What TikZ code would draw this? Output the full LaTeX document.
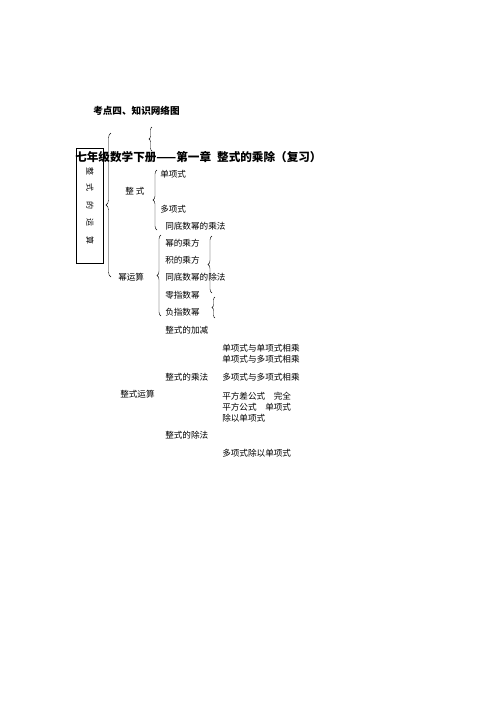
\documentclass[tikz,border=0pt]{standalone}
\usepackage{fontspec}
\setmainfont{Noto Sans CJK SC}
\usepackage{tikz}
\usetikzlibrary{decorations.pathreplacing}
\tikzset{
	item/.style     = {anchor=west, inner sep=0pt, font=\fontsize{8.6}{9}\selectfont},
	heading/.style  = {anchor=west, inner sep=0pt, font=\fontsize{11.6}{12}\selectfont\bfseries},
	vchar/.style    = {inner sep=0pt, rotate=-90, font=\fontsize{8}{9}\selectfont},
	brace/.style    = {decorate, decoration={brace, amplitude=#1}, thin},
	brace/.default  = 4pt,
}
\begin{document}
\begin{tikzpicture}[x=1pt, y=-1pt,             %<--one unit is one pixel of the layout
                     line width=.5pt]
    \useasboundingbox (0,0) rectangle (500,721);

    \draw%-----------------------------------------------------------------------------------------
    	%Drawing the Titles:
    	node(caption) at (93,111) [anchor=west, inner sep=0pt, font=\fontsize{9.6}{10}\selectfont\bfseries] {考点四、知识网络图}
    	node(title) at (75,157) [heading] {七年级数学下册——第一章\hspace{6pt}整式的乘除（复习）}
    	%Drawing the Box:
    	node(box) at (89.5,205.5) [draw, minimum width=27pt, minimum height=115pt, inner sep=0pt] {}
    	node(c1) at (90,171) [vchar] {整}
    	node(c2) at (90,187) [vchar] {式}
    	node(c3) at (90,205) [vchar] {的}
    	node(c4) at (90,222) [vchar] {运}
    	node(c5) at (90,240) [vchar] {算}
    	%Drawing the First Level:
    	node(zs) at (125,191) [item] {整\ 式}
    	node(myun) at (118,277) [item] {幂运算}
    	node(zsys) at (120,394) [item] {整式运算}
    	%Drawing the Second Level:
    	node(dan) at (160,174) [item] {单项式}
    	node(duo) at (160,209) [item] {多项式}
    	node(tcf) at (165,226) [item] {同底数幂的乘法}
    	node(mcf) at (165,243) [item] {幂的乘方}
    	node(jcf) at (165,260) [item] {积的乘方}
    	node(tcu) at (165,277) [item] {同底数幂的除法}
    	node(lzs) at (165,295) [item] {零指数幂}
    	node(fzs) at (165,312) [item] {负指数幂}
    	node(jj) at (165,330) [item] {整式的加减}
    	node(cf) at (165,377) [item] {整式的乘法}
    	node(cu) at (165,435) [item] {整式的除法}
    	%Drawing the Third Level:
    	node(dd) at (222,348) [item] {单项式与单项式相乘}
    	node(dduo) at (222,359) [item] {单项式与多项式相乘}
    	node(duoduo) at (222,377) [item] {多项式与多项式相乘}
    	node(pf1) at (222,396) [item] {平方差公式\quad 完全}
    	node(pf2) at (222,407) [item] {平方公式\quad 单项式}
    	node(pf3) at (222,418) [item] {除以单项式}
    	node(duod) at (222,453) [item] {多项式除以单项式}
    ;%---------------------------------------------------------------------------------------------

    %Brace End Points
    \coordinate (bigtop) at (111,133);
    \coordinate (bigbot) at (111,277);
    \coordinate (captop) at (152,127);
    \coordinate (capbot) at (152,151);
    \coordinate (zstop) at (157,170);
    \coordinate (zsbot) at (157,230);
    \coordinate (mtop) at (161,235);
    \coordinate (mbot) at (161,316);
    \coordinate (rtop) at (212,236);
    \coordinate (rbot) at (212,293);
    \coordinate (ftop) at (215,297);
    \coordinate (fbot) at (215,318);

    %Joining the Braces
  	\draw[brace=5pt] (bigbot) -- (bigtop);
  	\draw[brace=3pt] (capbot) -- (captop);
  	\draw[brace] (zsbot) -- (zstop);
  	\draw[brace] (mbot) -- (mtop);
  	\draw[brace] (rbot) -- (rtop);
  	\draw[brace=3pt] (fbot) -- (ftop);
\end{tikzpicture}
\end{document}
